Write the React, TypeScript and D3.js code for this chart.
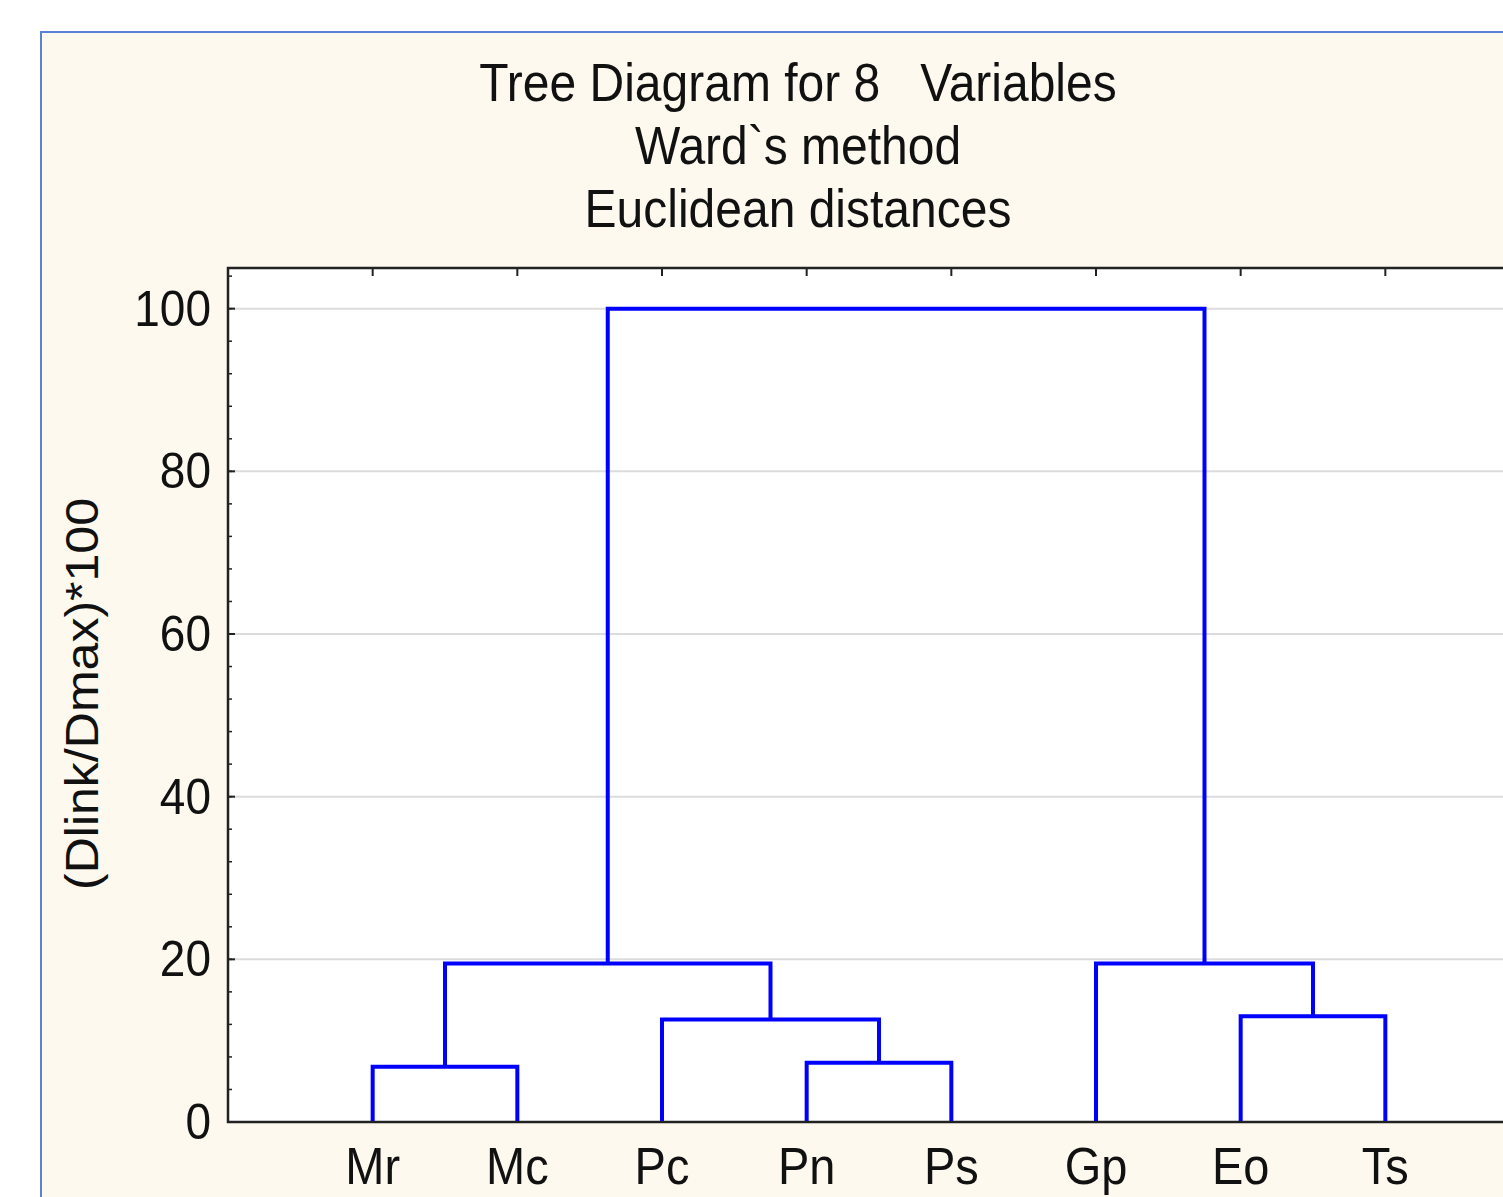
import React from "react";
import * as d3 from "d3";

const leaves = ["Mr", "Mc", "Pc", "Pn", "Ps", "Gp", "Eo", "Ts"];
// merges: [id, left child, right child, linkage distance]
const mergeIds = ["m1", "m2", "m3", "m4", "m5", "m6", "m7"];
const mergeLeft = ["Mr", "Pn", "Pc", "m1", "Eo", "Gp", "m4"];
const mergeRight = ["Mc", "Ps", "m2", "m3", "Ts", "m5", "m6"];
const mergeHeights = [6.8, 7.3, 12.6, 19.5, 13.0, 19.5, 100];
const yTicks = [0, 20, 40, 60, 80, 100];
const titleLines = ["Tree Diagram for 8   Variables", "Ward`s method", "Euclidean distances"];
const yLabel = "(Dlink/Dmax)*100";

const W = 1503;
const H = 1197;
const plotL = 228;
const plotT = 268;
const plotR = 1530;
const plotB = 1122;

export default function App() {
  const x = d3.scalePoint<string>().domain(leaves).range([plotL, plotR]).padding(1);
  const y = d3.scaleLinear().domain([0, 105]).range([plotB, plotT]);

  const pos: Record<string, { x: number; h: number }> = {};
  leaves.forEach((l) => (pos[l] = { x: x(l) as number, h: 0 }));
  const links: string[] = [];
  mergeIds.forEach((id, i) => {
    const a = pos[mergeLeft[i]];
    const b = pos[mergeRight[i]];
    const h = mergeHeights[i];
    pos[id] = { x: (a.x + b.x) / 2, h };
    const p = d3.path();
    p.moveTo(a.x, y(a.h));
    p.lineTo(a.x, y(h));
    p.lineTo(b.x, y(h));
    p.lineTo(b.x, y(b.h));
    links.push(p.toString());
  });

  const minor = d3.range(0, 105, 4);
  const font = "'Liberation Sans', Arial, sans-serif";
  const txt = "#111";

  return (
    <div style={{ position: "absolute", left: 0, top: 0, width: W, height: H, overflow: "hidden" }}>
      <svg width={W} height={H} style={{ display: "block" }}>
        <rect x={0} y={0} width={W} height={H} fill="#ffffff" />
        <rect x={41} y={32} width={W + 20} height={H + 20} fill="#fdf9ef" stroke="#5b80d8" strokeWidth={2} />
        {titleLines.map((t, i) => (
          <text
            key={i}
            transform={`translate(798,${101 + i * 63}) scale(1,1.1)`}
            textAnchor="middle"
            fontFamily={font}
            fontSize={48}
            fill={txt}
            style={{ whiteSpace: "pre" }}
          >
            {t}
          </text>
        ))}
        <rect x={plotL} y={plotT} width={plotR - plotL} height={plotB - plotT} fill="#ffffff" />
        {yTicks
          .filter((v) => v > 0)
          .map((v) => (
            <line key={v} x1={plotL} x2={plotR} y1={y(v)} y2={y(v)} stroke="#dcdcdc" strokeWidth={2} />
          ))}
        {minor.map((v) => (
          <line key={"m" + v} x1={plotL} x2={plotL + 4} y1={y(v)} y2={y(v)} stroke="#222" strokeWidth={1.5} />
        ))}
        {yTicks.map((v) => (
          <line key={"t" + v} x1={plotL} x2={plotL + 7} y1={y(v)} y2={y(v)} stroke="#222" strokeWidth={2} />
        ))}
        {leaves.map((l) => (
          <g key={"lt" + l}>
            <line x1={x(l)} x2={x(l)} y1={plotT} y2={plotT + 8} stroke="#222" strokeWidth={2} />
            <line x1={x(l)} x2={x(l)} y1={plotB} y2={plotB - 5} stroke="#222" strokeWidth={2} />
          </g>
        ))}
        {links.map((d, i) => (
          <path key={i} d={d} fill="none" stroke="#0000ff" strokeWidth={4} strokeLinejoin="miter" strokeLinecap="butt" />
        ))}
        <rect x={plotL} y={plotT} width={plotR - plotL} height={plotB - plotT} fill="none" stroke="#222" strokeWidth={2.5} />
        {yTicks.map((v) => (
          <text
            key={"yl" + v}
            transform={`translate(211,${y(v) + 17}) scale(1,1.1)`}
            textAnchor="end"
            fontFamily={font}
            fontSize={46}
            fill={txt}
          >
            {v}
          </text>
        ))}
        {leaves.map((l) => (
          <text
            key={"xl" + l}
            transform={`translate(${x(l)},1184) scale(1,1.1)`}
            textAnchor="middle"
            fontFamily={font}
            fontSize={47}
            fill={txt}
          >
            {l}
          </text>
        ))}
        <text
          transform="translate(98,694) rotate(-90) scale(1.1,1)"
          textAnchor="middle"
          fontFamily={font}
          fontSize={45.5}
          fill={txt}
        >
          {yLabel}
        </text>
      </svg>
    </div>
  );
}
